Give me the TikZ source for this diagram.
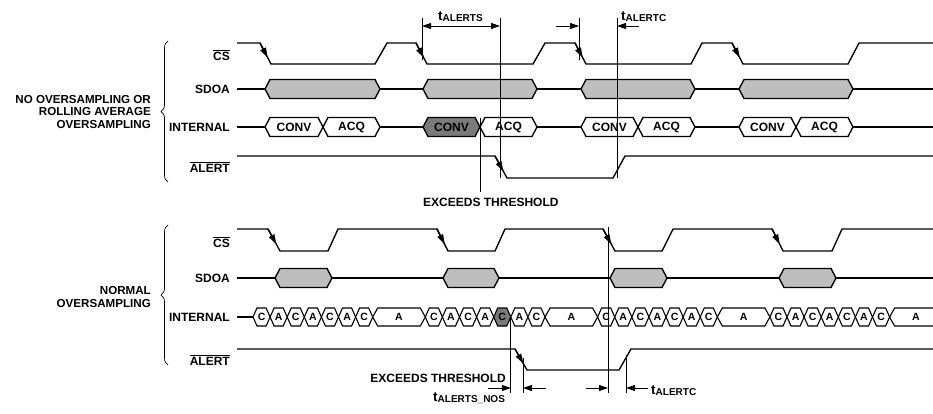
\documentclass[tikz,border=0pt]{standalone}
\usepackage{fontspec}
\setmainfont{Liberation Sans}
\usetikzlibrary{arrows.meta,decorations.pathreplacing}
\definecolor{busgray}{HTML}{BEBEBE}
\definecolor{convdark}{HTML}{7A7A7A}
\newcommand\hexshape[6]{%
  \draw[#1] (#2,#4) -- ({#2+#6},{#4-#5}) -- ({#3-#6},{#4-#5}) -- (#3,#4) -- ({#3-#6},{#4+#5}) -- ({#2+#6},{#4+#5}) -- cycle;}
\begin{document}
\begin{tikzpicture}[x=1pt,y=-1pt,
  sig/.style={line width=1.35pt,line join=miter},
  mk/.style={line width=0.8pt},
  hexw/.style={sig,fill=white},
  hexb/.style={sig,fill=busgray},
  hexd/.style={sig,fill=convdark},
  lbl/.style={font=\fontsize{12}{14}\selectfont\bfseries,inner sep=0pt},
  grp/.style={font=\fontsize{11.6}{12.5}\selectfont\bfseries,inner sep=0pt,align=right},
  sml/.style={font=\fontsize{10.5}{11}\selectfont\bfseries,inner sep=0pt},
  edgetip/.style={sig,-{Triangle[length=10pt,width=6pt]}},
  mtip/.style={mk,-{Triangle[length=9pt,width=6pt]}},
  brc/.style={decorate,decoration={brace,amplitude=7pt,aspect=0.5},line width=0.7pt}]
\useasboundingbox (0,0) rectangle (933,413);
\clip (0,0) rectangle (933,413);

% ===================== TOP SECTION =====================
\node[grp,anchor=east] (g1) at (151,112) {NO OVERSAMPLING OR\\ROLLING AVERAGE\\OVERSAMPLING};
\draw[brc] (168,182) -- (168,41);
\node[lbl,anchor=east] (l1cs) at (230,55) {$\overline{\mbox{CS}}$};
\node[lbl,anchor=east] (l1sd) at (230,89) {SDOA};
\node[lbl,anchor=east] (l1in) at (230,127) {INTERNAL};
\node[lbl,anchor=east] (l1al) at (230,167) {$\overline{\mbox{ALERT}}$};

% CS
\draw[sig] (237,43) -- (260,43) -- (271,64) -- (375,64) -- (387,43) -- (416,43) -- (427,64)
  -- (533,64) -- (545,43) -- (575,43) -- (586,64) -- (691,64) -- (702,43) -- (732,43)
  -- (743,64) -- (848,64) -- (859,43) -- (935,43);
\draw[edgetip] (260,43) -- (267.7,57.7);
\draw[edgetip] (416,43) -- (423.7,57.7);
\draw[edgetip] (575,43) -- (582.7,57.7);
\draw[edgetip] (732,43) -- (739.7,57.7);

% SDOA
\draw[sig] (237,89) -- (935,89);
\hexshape{hexb}{265}{380}{89}{9.5}{5}
\hexshape{hexb}{423}{537}{89}{9.5}{5}
\hexshape{hexb}{581}{695}{89}{9.5}{5}
\hexshape{hexb}{739}{853}{89}{9.5}{5}

% INTERNAL
\draw[sig] (237,127) -- (935,127);
\hexshape{hexw}{265}{323}{127}{9.5}{5}\node[lbl] (tc1) at (294,127) {CONV};
\hexshape{hexw}{323}{380}{127}{9.5}{5}\node[lbl] (ta1) at (351.5,127) {ACQ};
\hexshape{hexd}{423}{480}{127}{9.5}{5}\node[lbl] (tc2) at (451.5,127) {CONV};
\hexshape{hexw}{480}{537}{127}{9.5}{5}\node[lbl] (ta2) at (508.5,127) {ACQ};
\hexshape{hexw}{581}{638}{127}{9.5}{5}\node[lbl] (tc3) at (609.5,127) {CONV};
\hexshape{hexw}{638}{695}{127}{9.5}{5}\node[lbl] (ta3) at (666.5,127) {ACQ};
\hexshape{hexw}{739}{796}{127}{9.5}{5}\node[lbl] (tc4) at (767.5,127) {CONV};
\hexshape{hexw}{796}{853}{127}{9.5}{5}\node[lbl] (ta4) at (824.5,127) {ACQ};

% ALERT
\draw[sig] (237,156) -- (495,156) -- (507,178) -- (613,178) -- (625,156) -- (935,156);
\draw[edgetip] (495,156) -- (503.4,171.4);

% markers
\coordinate (s1a) at (422,18); \coordinate (s1b) at (422,60);
\coordinate (s2a) at (500,18); \coordinate (s2b) at (500,178);
\draw[mk] (s1a) -- (s1b);
\draw[mk] (s2a) -- (s2b);
\draw[mk,{Triangle[length=9pt,width=6pt]}-{Triangle[length=9pt,width=6pt]}] (422,26) -- (500,26);
\node[anchor=base west,inner sep=0pt,font=\bfseries] (tals) at (438,20)
  {\fontsize{13.5}{14}\selectfont t\raisebox{-1.5pt}{\fontsize{10}{10}\selectfont ALERTS}};
\coordinate (e1a) at (480,118); \coordinate (e1b) at (480,192);
\draw[mk] (e1a) -- (e1b);
\node[lbl,anchor=base west] (ex1) at (423,206) {EXCEEDS THRESHOLD};

\coordinate (c1a) at (579,18); \coordinate (c1b) at (579,60);
\coordinate (c2a) at (617,18); \coordinate (c2b) at (617,178);
\draw[mk] (c1a) -- (c1b);
\draw[mk] (c2a) -- (c2b);
\coordinate (c1l) at (556,26); \coordinate (c1m) at (579,26);
\coordinate (c2r) at (639,26); \coordinate (c2m) at (617,26);
\draw[mtip] (c1l) -- (c1m);
\draw[mtip] (c2r) -- (c2m);
\node[anchor=base west,inner sep=0pt,font=\bfseries] (talc) at (621,20)
  {\fontsize{13.5}{14}\selectfont t\raisebox{-1.5pt}{\fontsize{10}{10}\selectfont ALERTC}};

% ===================== BOTTOM SECTION =====================
\node[grp,anchor=east] (g2) at (151,297) {NORMAL\\OVERSAMPLING};
\draw[brc] (168,365) -- (168,225);
\node[lbl,anchor=east] (l2cs) at (230,242) {$\overline{\mbox{CS}}$};
\node[lbl,anchor=east] (l2sd) at (230,278) {SDOA};
\node[lbl,anchor=east] (l2in) at (230,317) {INTERNAL};
\node[lbl,anchor=east] (l2al) at (230,360) {$\overline{\mbox{ALERT}}$};

% CS
\draw[sig] (237,229) -- (268,229) -- (280,251) -- (328,251) -- (338,229) -- (437,229) -- (448,251)
  -- (495,251) -- (505,229) -- (603,229) -- (615,251) -- (662,251) -- (673,229) -- (772,229)
  -- (783,251) -- (832,251) -- (842,229) -- (935,229);
\draw[edgetip] (268,229) -- (276.4,244.4);
\draw[edgetip] (437,229) -- (444.7,244.4);
\draw[edgetip] (603,229) -- (611.4,244.4);
\draw[edgetip] (772,229) -- (779.7,244.4);

% SDOA
\draw[sig] (237,278) -- (935,278);
\hexshape{hexb}{275}{332}{278}{9.5}{5}
\hexshape{hexb}{443}{499}{278}{9.5}{5}
\hexshape{hexb}{610}{667}{278}{9.5}{5}
\hexshape{hexb}{779}{836}{278}{9.5}{5}

% INTERNAL
\draw[sig] (237,317) -- (253,317);
\foreach \k in {0,...,3}{
  \pgfmathsetmacro\xs{253+172.3*\k}
  \foreach \j in {0,...,6}{
    \pgfmathsetmacro\xa{\xs+17.1*\j}
    \pgfmathsetmacro\xb{\xa+17.1}
    \pgfmathsetmacro\xm{\xa+8.55}
    \def\hf{white}
    \ifnum\k=1 \ifnum\j=4 \def\hf{convdark}\fi\fi
    \hexshape{line width=1.1pt,fill=\hf}{\xa}{\xb}{317}{9}{4}
    \node[sml] (n\k\j) at (\xm,317) {\ifodd\j A\else C\fi};
  }
  \pgfmathsetmacro\xc{\xs+119.7}
  \pgfmathsetmacro\xd{\xs+172.3}
  \pgfmathsetmacro\xe{\xs+146}
  \hexshape{line width=1.1pt,fill=white}{\xc}{\xd}{317}{9}{5}
  \node[sml] (nb\k) at (\xe,317) {A};
}

% ALERT
\draw[sig] (237,349) -- (515,349) -- (527,370) -- (619,370) -- (631,349) -- (935,349);
\draw[edgetip] (515,349) -- (523.4,363.7);

% markers
\coordinate (m1a) at (510.8,317); \coordinate (m1b) at (510.8,393);
\coordinate (m2a) at (523,358);   \coordinate (m2b) at (523,393);
\coordinate (m3a) at (608,227);   \coordinate (m3b) at (608,393);
\coordinate (m4a) at (626,355);   \coordinate (m4b) at (626,393);
\draw[mk] (m1a) -- (m1b);
\draw[mk] (m2a) -- (m2b);
\draw[mk] (m3a) -- (m3b);
\draw[mk] (m4a) -- (m4b);
\coordinate (a1) at (488,388); \coordinate (a1e) at (510.8,388);
\coordinate (a2) at (546,388); \coordinate (a2e) at (523,388);
\coordinate (a3) at (586,388); \coordinate (a3e) at (608,388);
\coordinate (a4) at (648,388); \coordinate (a4e) at (626,388);
\draw[mtip] (a1) -- (a1e);
\draw[mtip] (a2) -- (a2e);
\draw[mtip] (a3) -- (a3e);
\draw[mtip] (a4) -- (a4e);
\node[lbl,anchor=base east] (ex2) at (506,382) {EXCEEDS THRESHOLD};
\node[anchor=base west,inner sep=0pt,font=\bfseries] (talsn) at (433,401)
  {\fontsize{13.5}{14}\selectfont t\raisebox{-1.5pt}{\fontsize{10}{10}\selectfont ALERTS\_NOS}};
\node[anchor=base west,inner sep=0pt,font=\bfseries] (talc2) at (651,394)
  {\fontsize{13.5}{14}\selectfont t\raisebox{-1.5pt}{\fontsize{10}{10}\selectfont ALERTC}};
\end{tikzpicture}
\end{document}
